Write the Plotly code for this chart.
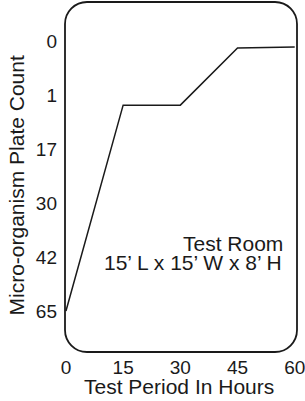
import numpy as np
import plotly.graph_objects as go

# ---- data ----
hours = [0, 15, 30, 45, 60]
plate_count = [65, 4, 4, 0.13, 0.11]
y_tick_labels = ["0", "1", "17", "30", "42", "65"]
y_tick_counts = [0, 1, 17, 30, 42, 65]
x_tick_vals = [0, 15, 30, 45, 60]
note_lines = ["Test Room", "15\u2019 L x 15\u2019 W x 8\u2019 H"]

W, H = 305, 401
L, R, T, B = 65, 8, 2, 49
pw, ph = W - L - R, H - T - B

# the y axis is an ordinal scale: labels equally spaced
y_pos_ticks = list(range(len(y_tick_labels)))
y_pos = np.interp(plate_count, y_tick_counts, y_pos_ticks)

ink = "#1a1a1a"
font = "Liberation Sans, Arial, Helvetica, sans-serif"

fig = go.Figure()
fig.add_trace(go.Scatter(x=hours, y=y_pos, mode="lines",
                         line=dict(color=ink, width=1.5),
                         hoverinfo="skip", cliponaxis=False))

# rounded frame in paper coordinates
r = 22
rx, ry = r / pw, r / ph
k = 0.4477
path = (f"M {rx},1 L {1-rx},1 C {1-rx*k},1 1,{1-ry*k} 1,{1-ry} "
        f"L 1,{ry} C 1,{ry*k} {1-rx*k},0 {1-rx},0 "
        f"L {rx},0 C {rx*k},0 0,{ry*k} 0,{ry} "
        f"L 0,{1-ry} C 0,{1-ry*k} {rx*k},1 {rx},1 Z")
fig.add_shape(type="path", path=path, xref="paper", yref="paper",
              line=dict(color=ink, width=1.8), layer="above")

def px_x(x):
    return (x - L) / pw

def px_y(y):
    return (T + ph - y) / ph

annos = [
    dict(text="Micro-organism Plate Count", x=px_x(16), y=px_y(185.5),
         textangle=-90, xanchor="center", yanchor="middle", font_size=21),
    dict(text="Test Period In Hours", x=px_x(178.5), y=px_y(386),
         xanchor="center", yanchor="middle", font_size=21),
    dict(text=note_lines[0], x=px_x(285), y=px_y(243.5),
         xanchor="right", yanchor="middle", font_size=21),
    dict(text=note_lines[1], x=px_x(284), y=px_y(262.5),
         xanchor="right", yanchor="middle", font_size=21),
]
for a in annos:
    fig.add_annotation(xref="paper", yref="paper", showarrow=False,
                       font=dict(family=font, color=ink, size=a.pop("font_size")), **a)

fig.update_layout(
    width=W, height=H, margin=dict(l=L, r=R, t=T, b=B),
    paper_bgcolor="white", plot_bgcolor="white", showlegend=False,
    font=dict(family=font, color=ink),
)
fig.update_xaxes(range=[-0.25, 60.6], tickvals=x_tick_vals,
                 ticktext=[str(v) for v in x_tick_vals],
                 showgrid=False, zeroline=False, showline=False, ticks="",
                 tickfont=dict(size=19, family=font, color=ink),
                 ticklabelstandoff=2, ticklabeloverflow="allow",
                 fixedrange=True, automargin=False)
fig.update_yaxes(range=[(T + ph - 41) / 54, -39 / 54], tickvals=y_pos_ticks,
                 ticktext=y_tick_labels,
                 showgrid=False, zeroline=False, showline=False, ticks="",
                 tickfont=dict(size=19, family=font, color=ink),
                 ticklabelstandoff=7, fixedrange=True, automargin=False)

fig.write_html("out.html", config={"displayModeBar": False},
               post_script="document.body.style.margin='0';document.body.style.overflow='hidden';")
